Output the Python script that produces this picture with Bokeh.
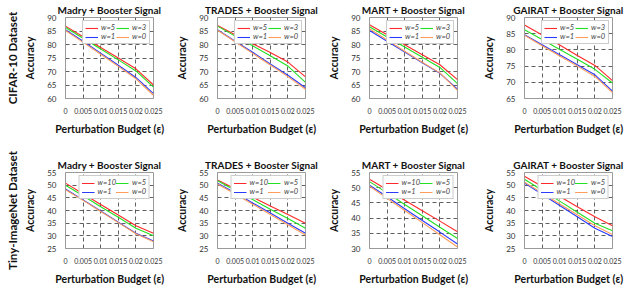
from bokeh.plotting import figure
from bokeh.models import Legend, LegendItem, Title, FixedTicker, SingleIntervalTicker, Range1d
from bokeh.layouts import row, column
from bokeh.embed import file_html
from bokeh.resources import INLINE

# ---------------- data ----------------
eps = [0, 0.005, 0.01, 0.015, 0.02, 0.025]
x_tick_values = [0, 0.005, 0.01, 0.015, 0.02, 0.025]
x_tick_labels = ["0", "0.005", "0.01", "0.015", "0.02", "0.025"]

methods = ["Madry", "TRADES", "MART", "GAIRAT"]
datasets = ["CIFAR-10 Dataset", "Tiny-ImageNet Dataset"]

cifar_labels = ["w=5", "w=3", "w=1", "w=0"]
tiny_labels = ["w=10", "w=5", "w=1", "w=0"]

# CIFAR-10 (series order: red, green, blue, orange)
cifar_madry = [
    [86.8, 82.9, 78.9, 75.0, 71.0, 65.0],
    [86.3, 82.3, 78.3, 74.3, 70.2, 64.2],
    [85.5, 81.2, 76.8, 72.3, 67.8, 61.8],
    [85.2, 80.8, 76.4, 71.9, 67.3, 61.2],
]
cifar_trades = [
    [87.0, 83.6, 80.3, 77.0, 73.5, 68.0],
    [86.8, 83.1, 79.5, 75.8, 72.0, 66.0],
    [85.5, 81.2, 77.1, 72.8, 68.6, 64.0],
    [85.3, 81.0, 76.7, 72.4, 68.1, 63.4],
]
cifar_mart = [
    [87.3, 83.6, 79.9, 76.2, 72.5, 67.0],
    [86.6, 82.8, 79.1, 75.3, 71.5, 65.5],
    [85.2, 81.2, 77.2, 73.2, 69.3, 63.5],
    [85.8, 81.7, 77.5, 73.4, 69.5, 63.0],
]
cifar_gairat = [
    [87.7, 84.6, 81.5, 78.3, 75.2, 70.5],
    [86.2, 83.2, 80.1, 77.1, 74.0, 69.8],
    [84.7, 81.6, 78.5, 75.4, 72.3, 67.3],
    [84.5, 81.3, 78.1, 75.0, 71.8, 66.8],
]
# Tiny-ImageNet
tiny_madry = [
    [50.8, 46.6, 42.4, 38.2, 34.0, 31.0],
    [50.0, 45.8, 41.5, 37.3, 33.0, 30.0],
    [48.5, 44.2, 39.8, 35.4, 31.0, 28.0],
    [48.2, 44.0, 39.6, 35.2, 30.8, 27.7],
]
tiny_trades = [
    [52.0, 48.6, 45.2, 41.8, 38.4, 35.0],
    [51.7, 48.0, 44.3, 40.5, 36.8, 33.0],
    [50.8, 47.0, 43.0, 39.0, 35.0, 31.0],
    [50.5, 46.5, 42.5, 38.4, 34.4, 30.3],
]
tiny_mart = [
    [52.8, 49.3, 45.9, 42.4, 39.0, 35.5],
    [52.0, 48.3, 44.5, 40.8, 37.0, 33.3],
    [50.8, 47.0, 43.1, 39.2, 35.4, 31.5],
    [50.5, 46.5, 42.5, 38.5, 34.5, 30.5],
]
tiny_gairat = [
    [53.5, 49.5, 45.5, 41.5, 37.5, 34.0],
    [52.3, 48.0, 43.7, 39.3, 35.0, 32.0],
    [50.8, 46.4, 42.0, 37.5, 33.0, 29.7],
    [51.2, 46.9, 42.6, 38.3, 34.0, 30.5],
]

cifar_ylims = [(60, 90), (60, 90), (60, 90), (65, 90)]
tiny_ylims = [(25, 55), (25, 55), (30, 55), (25, 55)]

series_colors = ["#ff2a2a", "#22e022", "#2a3cff", "#ff9d5c"]

# ---------------- layout ----------------
FONT = "Lato"
col_left = [52, 31, 31, 31]
col_right = [20, 20, 23, 12]
FRAME_W = 101
FRAME_H = 81
row_top = [17, 26]
row_bottom = [48, 34]


def make_plot(r, c, data, labels, ylim, dataset_label):
    w = col_left[c] + FRAME_W + col_right[c]
    h = row_top[r] + FRAME_H + row_bottom[r]
    p = figure(width=w, height=h, output_backend="svg", toolbar_location=None,
               min_border_left=col_left[c], min_border_right=col_right[c],
               min_border_top=row_top[r], min_border_bottom=row_bottom[r],
               x_range=Range1d(0, 0.025), y_range=Range1d(*ylim))
    p.title.text = methods[c] + " + Booster Signal"
    p.title.align = "center"
    p.title.text_font = FONT
    p.title.text_font_size = "10px"
    p.title.text_font_style = "bold"
    p.title.text_color = "#111111"
    p.title.standoff = 3

    p.xaxis.ticker = FixedTicker(ticks=x_tick_values)
    p.xaxis.major_label_overrides = {v: s for v, s in zip(x_tick_values, x_tick_labels)}
    p.yaxis.ticker = SingleIntervalTicker(interval=5)
    p.xaxis.axis_label = "Perturbation Budget (ε)"
    p.yaxis.axis_label = "Accuracy"
    for ax in (p.xaxis, p.yaxis):
        ax.axis_label_text_font = FONT
        ax.axis_label_text_font_size = "10.5px"
        ax.axis_label_text_font_style = "bold"
        ax.axis_label_text_color = "#111111"
        ax.major_label_text_font = FONT
        ax.major_label_text_color = "#333333"
        ax.major_tick_line_color = None
        ax.minor_tick_line_color = None
        ax.axis_line_color = "#9a9a9a"
        ax.major_label_standoff = 3
    p.xaxis.major_label_text_font_size = "7px"
    p.yaxis.major_label_text_font_size = "8px"
    p.xaxis.axis_label_standoff = 6
    p.yaxis.axis_label_standoff = 8
    p.outline_line_color = "#9a9a9a"
    p.outline_line_alpha = 1
    for g in (p.xgrid, p.ygrid):
        g.grid_line_color = "#3a3a3a"
        g.grid_line_dash = "4 3"
        g.grid_line_width = 1
        g.grid_line_alpha = 0.8

    renderers = []
    for ys, col in zip(data, series_colors):
        renderers.append(p.line(eps, ys, line_color=col, line_width=1.1))

    order = [0, 2, 1, 3]
    items = [LegendItem(label=labels[i], renderers=[renderers[i]]) for i in order]
    leg = Legend(items=items, location="top_right", ncols=2,
                 label_text_font=FONT, label_text_font_size="7.5px",
                 label_text_color="#444444", label_height=7, label_standoff=3,
                 label_width=15,
                 glyph_width=13, glyph_height=8, spacing=0, padding=2, margin=3,
                 border_line_color="#999999", background_fill_alpha=1,
                 label_text_font_style="italic")
    p.add_layout(leg)

    if dataset_label:
        t = Title(text=dataset_label, align="center", text_font=FONT,
                  text_font_size="11.5px", text_font_style="bold", text_color="#111111",
                  standoff=6)
        p.add_layout(t, "left")
    return p


cifar_data = [cifar_madry, cifar_trades, cifar_mart, cifar_gairat]
tiny_data = [tiny_madry, tiny_trades, tiny_mart, tiny_gairat]

row1 = [make_plot(0, c, cifar_data[c], cifar_labels, cifar_ylims[c], datasets[0] if c == 0 else None) for c in range(4)]
row2 = [make_plot(1, c, tiny_data[c], tiny_labels, tiny_ylims[c], datasets[1] if c == 0 else None) for c in range(4)]

layout = column(row(*row1, spacing=0), row(*row2, spacing=0), spacing=0)

open("out.html", "w").write(file_html(layout, INLINE))
